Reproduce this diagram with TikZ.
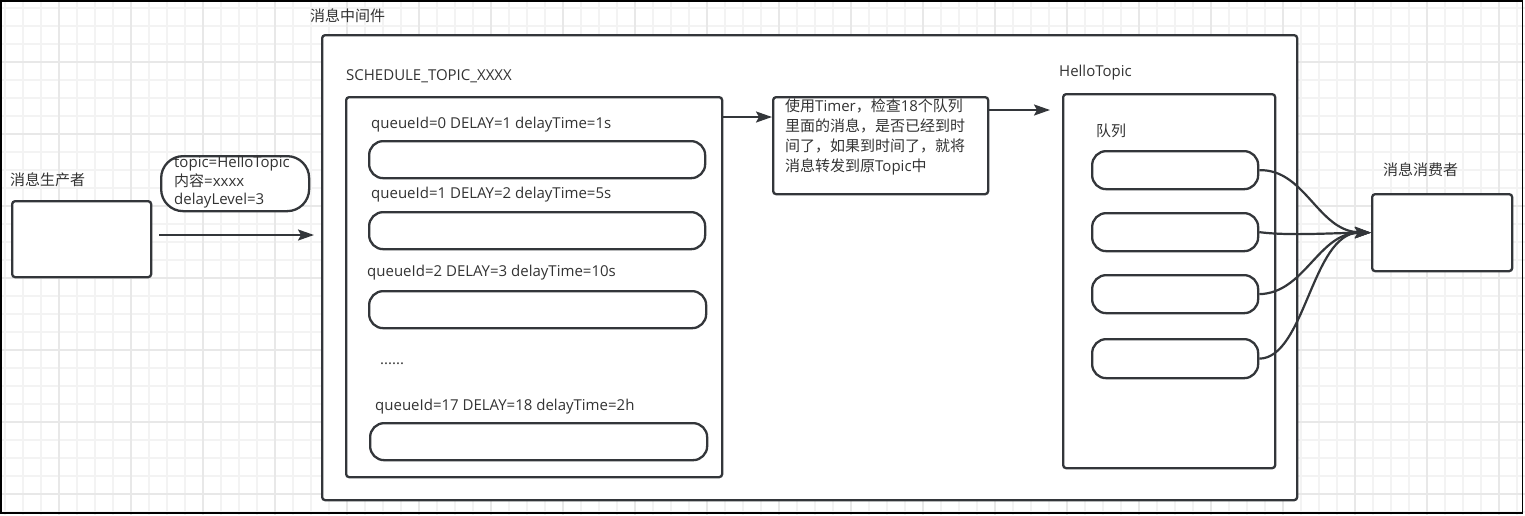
\documentclass[tikz,border=0pt]{standalone}
\usepackage{fontspec}
\setmainfont{Open Sans}
\newfontfamily\cjk{Noto Sans CJK SC}
\usetikzlibrary{arrows.meta}
\definecolor{stroke}{HTML}{33363A}
\definecolor{txt}{HTML}{333333}
\definecolor{gridminor}{HTML}{F3F3F3}
\definecolor{gridmajor}{HTML}{E8E8E8}
\begin{document}
\begin{tikzpicture}[x=1pt,y=-1pt,
  box/.style={draw=stroke, line width=2.3pt, fill=white, rounded corners=3pt, inner sep=0pt, anchor=north west},
  pill/.style={box, rounded corners=14pt},
  lbl/.style={text=txt, inner sep=0pt, font=\fontsize{15}{18}\selectfont},
  conn/.style={draw=stroke, line width=2.2pt, -{Stealth[length=16pt,width=11pt,inset=3pt]}},
]
\useasboundingbox (0,0) rectangle (1525,515);
\fill[white] (0,0) rectangle (1525,515);
\foreach \x in {5,23,...,1524} \draw[gridminor, line width=1.2pt] (\x,0) -- (\x,515);
\foreach \y in {8,26,...,514} \draw[gridminor, line width=1.2pt] (0,\y) -- (1525,\y);
\foreach \x in {59,131,...,1524} \draw[gridmajor, line width=1.2pt] (\x,0) -- (\x,515);
\foreach \y in {62,134,...,514} \draw[gridmajor, line width=1.2pt] (0,\y) -- (1525,\y);
\draw[black, line width=1.2pt] (1,1) rectangle (1522.5,513);

% producer
\node[lbl, anchor=west] (prodlbl) at (10,180) {\cjk 消息生产者};
\node[box, minimum width=139pt, minimum height=76pt] (prod) at (11,200) {};
\node[box, rounded corners=22pt, minimum width=148pt, minimum height=55pt] (msg) at (160,155) {};
\node[lbl, anchor=north west, align=left, font=\fontsize{15}{18.5}\selectfont] (msgtxt) at (174,156) {topic=HelloTopic\\{\cjk 内容}=xxxx\\delayLevel=3};
\coordinate (a1s) at (159,235);
\coordinate (a1e) at (314,235);
\draw[conn] (a1s) -- (a1e);

% middleware
\node[lbl, anchor=west] (mwlbl) at (310,16) {\cjk 消息中间件};
\node[box, minimum width=975pt, minimum height=465pt] (mw) at (321,34) {};

% schedule topic
\node[lbl, anchor=west] (schedlbl) at (346,76) {SCHEDULE\_TOPIC\_XXXX};
\node[box, minimum width=376pt, minimum height=380pt] (sched) at (345,96) {};
\node[lbl, anchor=west] (q0lbl) at (371,125) {queueId=0 DELAY=1 delayTime=1s};
\node[pill, minimum width=336pt, minimum height=37pt] (q0) at (368,140) {};
\node[lbl, anchor=west] (q1lbl) at (371,195) {queueId=1 DELAY=2 delayTime=5s};
\node[pill, minimum width=336pt, minimum height=37pt] (q1) at (368,211) {};
\node[lbl, anchor=west] (q2lbl) at (367,273) {queueId=2 DELAY=3 delayTime=10s};
\node[pill, minimum width=337pt, minimum height=37pt] (q2) at (368,290) {};
\node[lbl, anchor=west] (dots) at (380,364) {......};
\node[lbl, anchor=west] (q17lbl) at (375,407) {queueId=17 DELAY=18 delayTime=2h};
\node[pill, minimum width=337pt, minimum height=37pt] (q17) at (369,422) {};

% timer
\node[box, minimum width=215pt, minimum height=97pt] (timer) at (772,96) {};
\node[lbl, anchor=north west, align=left, font=\fontsize{15}{19.7}\selectfont] (timertxt) at (785,99)
  {{\cjk 使用}Timer{\cjk ，检查}18{\cjk 个队列}\\{\cjk 里面的消息，是否已经到时}\\{\cjk 间了，如果到时间了，就将}\\{\cjk 消息转发到原}Topic{\cjk 中}};
\draw[conn] ([yshift=-21pt]sched.north east) -- ([yshift=-21pt]timer.north west);
\coordinate (a2e) at (1050,110);
\draw[conn] ([yshift=-14pt]timer.north east) -- (a2e);

% hello topic
\node[lbl, anchor=west] (htlbl) at (1059,73) {HelloTopic};
\node[box, minimum width=212pt, minimum height=374pt] (ht) at (1062,93) {};
\node[lbl, anchor=west] (qlbl) at (1096,131) {\cjk 队列};
\node[pill, minimum width=166pt, minimum height=38pt] (h1) at (1091,150) {};
\node[pill, minimum width=166pt, minimum height=38pt] (h2) at (1091,212) {};
\node[pill, minimum width=166pt, minimum height=38pt] (h3) at (1091,274) {};
\node[pill, minimum width=166pt, minimum height=39pt] (h4) at (1091,338) {};

% consumer
\node[lbl, anchor=west] (conslbl) at (1383,170) {\cjk 消息消费者};
\node[box, minimum width=140pt, minimum height=77pt] (cons) at (1371,193) {};

\draw[conn] (h1.east) .. controls (1305,169) and (1318,231) .. (cons.west);
\draw[conn] (h2.east) .. controls (1290,236) and (1330,233) .. (cons.west);
\draw[conn] (h3.east) .. controls (1305,293) and (1318,233) .. (cons.west);
\draw[conn] (h4.east) .. controls (1305,358) and (1312,233) .. (cons.west);
\end{tikzpicture}
\end{document}
